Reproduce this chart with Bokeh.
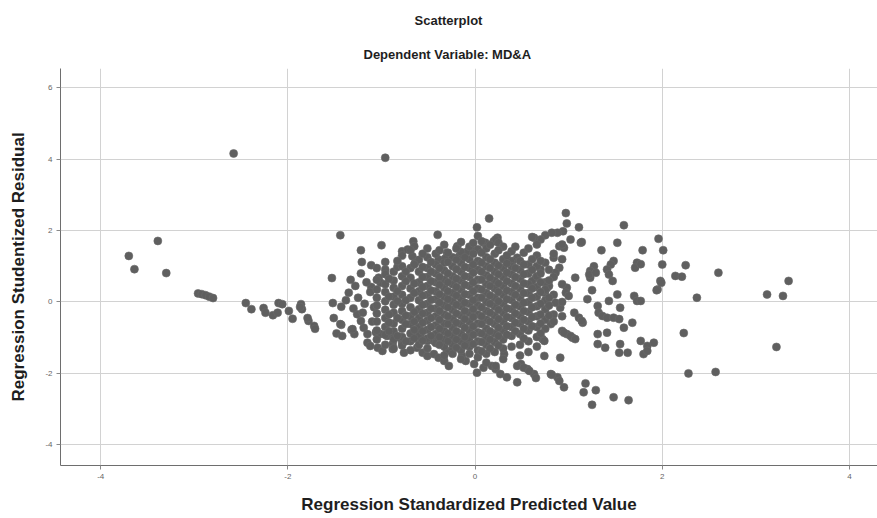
from bokeh.plotting import figure
from bokeh.models import Range1d, FixedTicker, Title
from bokeh.embed import file_html
from bokeh.resources import INLINE

# ---------------- data ----------------
x_ticks = [-4, -2, 0, 2, 4]
y_ticks = [-4, -2, 0, 2, 4, 6]

# sparse points on the far left and the two outliers
left_x = [-3.70, -3.64, -3.39, -3.30, -2.96, -2.92, -2.88, -2.84, -2.80, -2.58, -0.96]
left_y = [1.29, 0.92, 1.71, 0.81, 0.24, 0.22, 0.19, 0.15, 0.11, 4.16, 4.04]

# tail between -2.5 and -1.4
tail_x = [-2.45, -2.39, -2.26, -2.24, -2.16, -2.10, -2.06, -2.11, -1.99, -1.95, -1.86, -1.85,
          -1.78, -1.72, -1.53, -1.52, -1.51, -1.44, -1.79, -1.71, -1.87]
tail_y = [-0.03, -0.20, -0.17, -0.30, -0.37, -0.03, -0.06, -0.30, -0.25, -0.47, -0.06, -0.20,
          -0.53, -0.67, 0.67, -0.03, -0.45, 1.87, -0.45, -0.75, -0.14]

# left part of the cloud (-1.5 .. -1.0)
lmid_x = [-1.43, -1.43, -1.48, -1.32, -1.03, -1.11, -1.22, -1.00, -0.66, -1.21, -1.11, -1.35,
          -1.44, -1.42, -1.29, -1.31, -1.15, -1.12, -1.04, -0.99, -1.26, -1.22, -1.19, -1.15,
          -1.38, -1.30, -1.25, -1.18, -1.12, -1.16, -1.28, -1.20, -1.08, -1.10, -1.06, -1.22, -1.33]
lmid_y = [-0.13, -0.64, -0.88, -0.78, 0.68, 0.42, 1.45, 1.59, 1.70, 1.12, 1.03, 0.26,
          -0.62, -0.95, -0.90, -0.76, -1.14, -1.23, -1.28, -1.37, -0.34, -0.53, -0.72, -0.90,
          0.05, -0.18, 0.12, -0.05, 0.28, 0.55, 0.45, -0.30, -0.15, -0.55, -0.85, 0.80, 0.62]

# lower edge of the cloud
low_x = [-0.88, -0.88, -0.78, -0.76, -0.62, -0.56, -0.51, -0.44, -0.39, -0.33, -0.28, -0.30,
         -0.24, -0.14, -0.10, -0.01, 0.02, 0.09, 0.18, 0.22, -0.12, -0.07, -0.62, -0.58,
         -0.51, -0.44, -1.01, -0.94, -0.87, -0.80]
low_y = [-1.18, -1.32, -1.14, -1.42, -1.28, -1.42, -1.51, -1.46, -1.56, -1.65, -1.79, -1.37,
         -1.32, -1.51, -1.65, -1.74, -1.98, -1.84, -1.79, -1.88, -1.14, -1.18, -0.90, -1.00,
         -1.09, -1.09, -0.90, -0.95, -1.00, -1.00]

# upper edge of the cloud
up_x = [-0.40, 0.02, 0.15, -0.78, -0.72, -0.65, -1.01, -0.19, -0.30, -0.08, -0.01, 0.09,
        0.20, 0.24, -0.39, -0.32, -0.17, -0.96, -0.87, -0.83, -0.67, -0.64]
up_y = [1.88, 2.09, 2.34, 1.42, 1.47, 1.56, 0.54, 1.56, 1.38, 1.42, 1.44, 1.66,
        1.70, 1.80, 1.19, 1.22, 1.28, 0.91, 0.85, 0.98, 1.28, 1.10]

# right part of the cloud and the far right points
right_x = [0.97, 0.98, 1.11, 1.59, 0.94, 0.88, 0.82, 0.75, 0.70, 0.63, 0.22, 0.25, 0.11, 1.02,
           1.13, 0.90, 0.95, 1.52, 1.35, 1.79, 1.96, 2.01, 1.48, 1.45, 1.73, 1.71, 2.00, 1.27,
           1.23, 0.52, 0.45, 0.40, 0.84, 0.90, 0.86, 0.70, 0.65, 0.61, 1.07, 1.41, 1.43, 1.47,
           1.23, 2.14, 2.21, 1.98, 1.95, 0.98, 0.97, 1.00, 1.25, 0.77, 0.74, 1.20, 1.52, 1.43,
           1.55, 1.70, 1.73, 1.31, 1.32, 1.36, 1.41, 1.48, 1.54, 1.59, 1.68, 1.06, 1.11, 1.15,
           0.91, 0.86, 0.81, 0.93, 0.98, 1.04, 1.31, 1.41, 0.72, 1.31, 1.39, 1.55, 1.54, 1.63,
           1.77, 1.84, 1.91, 1.80, 0.74, 0.91, 0.49, 0.56, 0.63, 0.81, 0.88, 0.27, 0.34, 0.74,
           0.45, 0.52, 0.58, 0.65, 0.45, 0.82, 0.90, 0.95, 1.18, 1.16, 1.29, 1.25, 1.48, 1.64,
           0.31, 0.22, 1.14, 0.95, 1.02, 1.07, 2.25, 2.60, 2.37, 3.12, 3.29, 3.35, 2.23, 1.84,
           3.22, 2.28, 2.57, 1.77, 1.77, 1.99, 1.94, 1.22, 1.29, 0.79, 0.75, 0.61, 0.66, 0.93,
           1.14, 0.38]
right_y = [2.49, 2.20, 2.09, 2.15, 1.98, 1.94, 1.94, 1.87, 1.75, 1.80, 1.75, 1.66, 1.66, 1.75,
           1.66, 1.56, 1.52, 1.66, 1.45, 1.45, 1.77, 1.45, 1.15, 1.05, 1.10, 0.96, 1.05, 1.00,
           0.87, 1.38, 1.24, 1.15, 1.24, 0.96, 0.82, 0.91, 0.68, 0.59, 0.68, 0.91, 0.77, 0.59,
           0.68, 0.73, 0.71, 0.59, 0.35, 0.40, 0.26, 0.17, 0.33, 0.40, 0.26, 0.08, 0.21, 0.03,
           -0.16, 0.17, 0.03, -0.11, -0.30, -0.39, -0.44, -0.44, -0.48, -0.72, -0.58, -0.30, -0.44, -0.58,
           -0.16, -0.02, -0.62, -0.81, -0.90, -1.00, -0.90, -0.86, -1.04, -1.18, -1.28, -1.18, -1.42, -1.42,
           -1.09, -1.23, -1.14, -1.46, -1.51, -1.56, -1.74, -1.88, -2.02, -2.02, -2.11, -2.02, -2.11, -1.09,
           -1.79, -1.84, -1.93, -2.13, -2.25, -2.04, -2.21, -2.39, -2.28, -2.53, -2.47, -2.88, -2.67, -2.75,
           -1.46, -1.79, -0.53, -0.86, -0.95, -1.04, 1.03, 0.82, 0.12, 0.21, 0.17, 0.59, -0.87, -1.37,
           -1.26, -2.00, -1.96, 1.06, 0.03, 0.54, 0.33, 0.77, 0.82, 0.45, 0.31, 1.82, 1.61, 1.61,
           1.68, 1.13]

# dense core, read column by column
core_cols = [-1.05, -0.96, -0.87, -0.78, -0.69, -0.60, -0.51, -0.42, -0.33, -0.24,
             -0.15, -0.06, 0.03, 0.12, 0.21, 0.30, 0.39, 0.48, 0.57, 0.66, 0.75, 0.84, 0.93]
core_vals = [
    [0.95, 0.62, 0.35, 0.12, -0.10, -0.32, -0.55, -0.80, -1.05],
    [1.12, 0.78, 0.50, 0.28, 0.02, -0.22, -0.45, -0.70, -0.92, -1.20],
    [0.60, 0.40, 0.15, -0.08, -0.30, -0.60, -0.82, -1.05, -1.30],
    [1.30, 1.00, 0.72, 0.45, 0.20, -0.05, -0.25, -0.50, -0.75, -0.98, -1.22],
    [1.45, 0.95, 0.68, 0.38, 0.12, -0.15, -0.40, -0.62, -0.88, -1.10, -1.35],
    [1.18, 0.85, 0.55, 0.30, 0.05, -0.20, -0.45, -0.70, -0.95, -1.20],
    [1.50, 1.25, 0.95, 0.70, 0.45, 0.20, -0.05, -0.30, -0.52, -0.78, -1.02, -1.30],
    [1.35, 1.05, 0.80, 0.55, 0.30, 0.08, -0.18, -0.40, -0.65, -0.90, -1.15],
    [1.60, 1.10, 0.88, 0.62, 0.40, 0.15, -0.10, -0.35, -0.60, -0.82, -1.05, -1.25, -1.50],
    [1.25, 1.00, 0.72, 0.50, 0.25, 0.02, -0.22, -0.48, -0.72, -0.95, -1.18, -1.45],
    [1.68, 1.40, 1.10, 0.85, 0.60, 0.35, 0.10, -0.12, -0.38, -0.62, -0.88, -1.10, -1.35, -1.60],
    [1.55, 1.20, 0.95, 0.70, 0.45, 0.20, -0.05, -0.30, -0.55, -0.80, -1.00, -1.25, -1.45],
    [1.85, 1.48, 1.15, 0.90, 0.62, 0.38, 0.12, -0.10, -0.35, -0.60, -0.85, -1.10, -1.35, -1.55],
    [1.50, 1.25, 1.00, 0.75, 0.50, 0.25, 0.00, -0.25, -0.50, -0.75, -0.98, -1.20, -1.45, -1.70],
    [1.35, 1.10, 0.85, 0.60, 0.38, 0.12, -0.12, -0.38, -0.62, -0.88, -1.12, -1.40],
    [1.55, 1.20, 0.95, 0.70, 0.45, 0.20, -0.05, -0.30, -0.55, -0.80, -1.05, -1.30, -1.60],
    [1.42, 1.00, 0.78, 0.52, 0.28, 0.05, -0.20, -0.45, -0.70, -0.95, -1.25],
    [1.15, 0.90, 0.65, 0.38, 0.12, -0.12, -0.38, -0.60, -0.90, -1.20, -1.50],
    [1.50, 1.05, 0.80, 0.50, 0.25, 0.00, -0.28, -0.55, -0.80, -1.10, -1.40],
    [1.30, 1.00, 0.72, 0.42, 0.15, -0.12, -0.40, -0.70, -0.98, -1.25],
    [1.10, 0.55, 0.35, 0.05, -0.20, -0.50, -0.75],
    [1.35, 0.70, 0.20, -0.35, -0.55],
    [1.20, 0.50, 0.00, -0.40],
]

# points filling the gaps of the dense core
core2_cols = [-0.92, -0.83, -0.74, -0.65, -0.56, -0.47, -0.38, -0.29, -0.20, -0.11,
              -0.02, 0.07, 0.16, 0.25, 0.34, 0.43, 0.52, 0.61, 0.70, 0.79]
core2_vals = [
    [0.65, 0.15, -0.35, -0.58, -0.82],
    [1.15, 0.30, 0.02, -0.45, -0.95],
    [0.85, 0.58, 0.05, -0.38, -0.62, -1.10],
    [1.05, 0.52, 0.25, -0.28, -0.55, -0.78, -1.02],
    [1.35, 0.98, 0.70, 0.42, 0.18, -0.08, -0.32, -0.58, -0.82, -1.08],
    [1.12, 0.85, 0.58, 0.32, 0.06, -0.18, -0.45, -0.70, -0.95],
    [1.45, 0.95, 0.70, 0.48, 0.22, -0.02, -0.25, -0.50, -0.75, -0.98, -1.20],
    [1.38, 1.12, 0.80, 0.55, 0.30, 0.08, -0.15, -0.40, -0.62, -0.88, -1.10],
    [1.50, 1.18, 0.92, 0.65, 0.42, 0.18, -0.08, -0.32, -0.58, -0.82, -1.05, -1.28],
    [1.25, 0.98, 0.72, 0.48, 0.22, -0.02, -0.25, -0.48, -0.72, -0.98, -1.22],
    [1.65, 1.35, 1.05, 0.82, 0.55, 0.30, 0.05, -0.20, -0.42, -0.68, -0.92, -1.18],
    [1.70, 1.38, 1.10, 0.85, 0.62, 0.35, 0.12, -0.15, -0.40, -0.62, -0.88, -1.12, -1.38],
    [1.60, 1.20, 0.95, 0.68, 0.45, 0.18, -0.05, -0.30, -0.55, -0.82, -1.05, -1.30],
    [1.45, 1.02, 0.78, 0.52, 0.28, 0.02, -0.22, -0.48, -0.72, -0.95, -1.22],
    [1.30, 1.08, 0.82, 0.58, 0.32, 0.08, -0.18, -0.42, -0.68, -0.92],
    [1.55, 0.95, 0.70, 0.45, 0.20, -0.08, -0.32, -0.58, -0.82],
    [1.05, 0.78, 0.52, 0.25, -0.02, -0.25, -0.50, -0.75, -1.02],
    [1.20, 0.90, 0.38, 0.12, -0.15, -0.42, -0.68],
    [1.15, 0.80, 0.55, 0.28, -0.05, -0.35, -0.60, -0.88],
    [0.90, 0.60, 0.12, -0.10, -0.38],
]

# ---------------- assemble ----------------
xs = left_x + tail_x + lmid_x + low_x + up_x + right_x
ys = left_y + tail_y + lmid_y + low_y + up_y + right_y
for cols, vals_list in ((core_cols, core_vals), (core2_cols, core2_vals)):
    for cx, vals in zip(cols, vals_list):
        xs += [cx] * len(vals)
        ys += vals

FONT = "Liberation Sans"

p = figure(width=877, height=518, output_backend="svg", toolbar_location=None,
           x_range=Range1d(-4.43, 4.30), y_range=Range1d(-4.58, 6.54),
           min_border_left=60, min_border_right=0, min_border_top=67, min_border_bottom=53,
           background_fill_color="white", border_fill_color="white", outline_line_color=None)
p.title = None

p.add_layout(Title(text="Dependent Variable: MD&A", align="left", text_font=FONT,
                   text_font_size="13px", text_font_style="bold", text_color="#1e1e1e",
                   offset=303, standoff=13), "above")
p.add_layout(Title(text="Scatterplot", align="left", text_font=FONT,
                   text_font_size="13px", text_font_style="bold", text_color="#1e1e1e",
                   offset=354, standoff=21), "above")

p.scatter(xs, ys, size=8, fill_color="#5f5f5f", line_color="#6a6a6a", line_width=0.6)

p.xaxis.ticker = FixedTicker(ticks=x_ticks)
p.yaxis.ticker = FixedTicker(ticks=y_ticks)
p.xaxis.major_label_overrides = {t: str(t) for t in x_ticks}
p.yaxis.major_label_overrides = {t: str(t) for t in y_ticks}

for ax in (p.xaxis[0], p.yaxis[0]):
    ax.axis_line_color = "#6e6e6e"
    ax.major_tick_line_color = "#8a8a8a"
    ax.major_tick_out = 4
    ax.major_tick_in = 0
    ax.minor_tick_line_color = None
    ax.major_label_text_font = FONT
    ax.major_label_text_font_size = "8px"
    ax.major_label_text_color = "#666666"
    ax.axis_label_text_font = FONT
    ax.axis_label_text_font_size = "17px"
    ax.axis_label_text_font_style = "bold"
    ax.axis_label_text_color = "#1e1e1e"
    ax.major_label_standoff = 4

p.xaxis.axis_label = "Regression Standardized Predicted Value"
p.yaxis.axis_label = "Regression Studentized Residual"
p.xaxis.axis_label_standoff = 13
p.yaxis.axis_label_standoff = 14

p.xgrid.grid_line_color = "#d2d2d2"
p.ygrid.grid_line_color = "#d2d2d2"
p.xgrid.grid_line_width = 1
p.ygrid.grid_line_width = 1

open("out.html", "w").write(file_html(p, INLINE))
